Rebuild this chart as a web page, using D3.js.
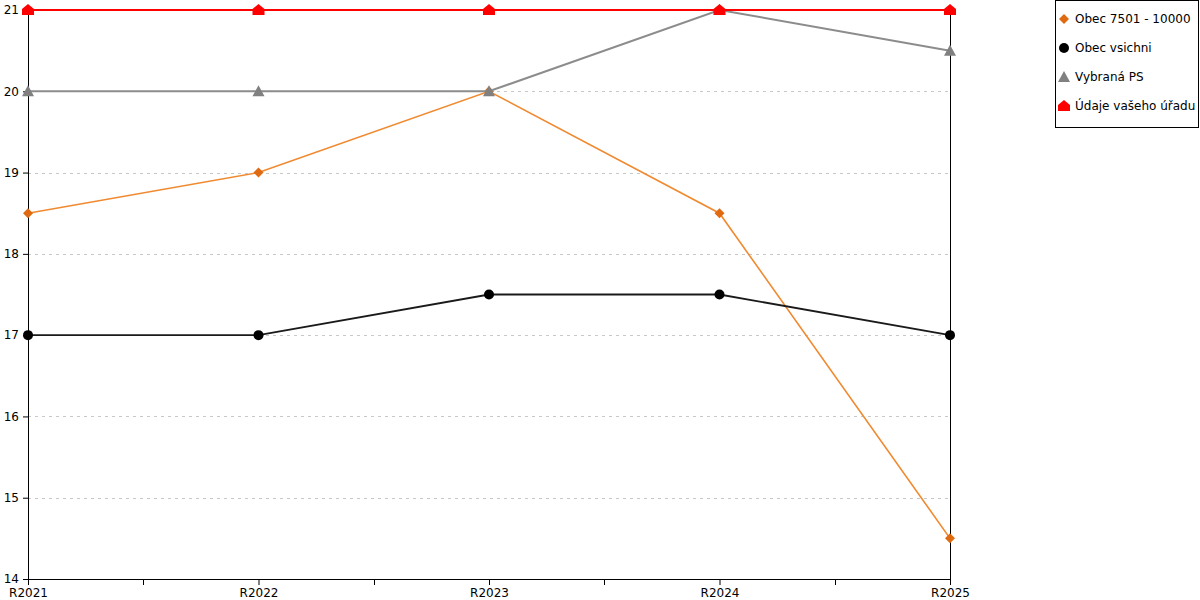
<!DOCTYPE html>
<html><head><meta charset="utf-8">
<script src="https://cdn.jsdelivr.net/npm/d3@7/dist/d3.min.js"></script>
<style>body{margin:0;background:#fff;} text{font-family:"DejaVu Sans",Verdana,sans-serif;}</style>
</head><body><svg id="c" width="1200" height="600"></svg>
<script>
const categories = ["R2021","R2022","R2023","R2024","R2025"];
const yTicks = [14,15,16,17,18,19,20,21];
const seriesNames = ["Obec 7501 - 10000","Obec vsichni","Vybraná PS","Údaje vašeho úřadu"];
const obec7501 = [18.5, 19, 20, 18.5, 14.5];
const obecVsichni = [17, 17, 17.5, 17.5, 17];
const vybranaPS = [20, 20, 20, 21, 20.5];
const udajeUradu = [21, 21, 21, 21, 21];

const styles = [
  {line:"#f08a30", fill:"#e06a10", w:1.6, shape:"diamond"},
  {line:"#1a1a1a", fill:"#000000", w:1.8, shape:"circle"},
  {line:"#8c8c8c", fill:"#808080", w:2, shape:"triangle"},
  {line:"#ff0000", fill:"#ff0000", w:2.2, shape:"house"}
];
const data = [obec7501, obecVsichni, vybranaPS, udajeUradu];

const svg = d3.select("#c");
const L=28, R=950, T=10, B=579;
const x = d3.scalePoint().domain(categories).range([L,R]);
const y = d3.scaleLinear().domain([14,21]).range([B,T]);

// grid
svg.append("g").selectAll("line").data(yTicks.filter(v=>v>14&&v<21)).join("line")
  .attr("x1",L).attr("x2",R).attr("y1",d=>Math.round(y(d))+0.5).attr("y2",d=>Math.round(y(d))+0.5)
  .attr("stroke","#c8c8c8").attr("stroke-dasharray","3,4").attr("stroke-width",1);

// y axis
const ya = svg.append("g").attr("transform",`translate(${L},0)`)
  .call(d3.axisLeft(y).tickValues(yTicks).tickFormat(d3.format("d")).tickSize(5).tickSizeOuter(0));
ya.select(".domain").attr("stroke","#000");
ya.selectAll("text").attr("font-size",12).attr("fill","#000").attr("x",-9);
// right line
svg.append("line").attr("x1",R+0.5).attr("x2",R+0.5).attr("y1",T).attr("y2",B).attr("stroke","#000");

// x axis
const xa = svg.append("g").attr("transform",`translate(0,${B})`)
  .call(d3.axisBottom(x).tickSize(6).tickSizeOuter(0));
xa.select(".domain").attr("stroke","#000");
xa.selectAll("text").attr("font-size",12).attr("fill","#000").attr("y",9).attr("dy","0.75em");
// minor ticks
const mids = d3.pairs(categories).map(([a,b])=>(x(a)+x(b))/2);
svg.append("g").selectAll("line").data(mids).join("line")
  .attr("x1",d=>Math.round(d)+0.5).attr("x2",d=>Math.round(d)+0.5).attr("y1",B).attr("y2",B+6).attr("stroke","#000");

function marker(sel, shape, fill, cx, cy){
  if(shape==="circle") sel.append("circle").attr("cx",cx).attr("cy",cy).attr("r",5).attr("fill",fill);
  else if(shape==="diamond") sel.append("path").attr("d",`M${cx},${cy-5}L${cx+5},${cy}L${cx},${cy+5}L${cx-5},${cy}Z`).attr("fill",fill);
  else if(shape==="triangle") sel.append("path").attr("d",`M${cx},${cy-6}L${cx+6},${cy+5}L${cx-6},${cy+5}Z`).attr("fill",fill);
  else if(shape==="house") sel.append("path").attr("d",`M${cx},${cy-6}L${cx+6},${cy-1}L${cx+6},${cy+5}L${cx-6},${cy+5}L${cx-6},${cy-1}Z`).attr("fill",fill);
}

const line = d3.line().x((d,i)=>x(categories[i])).y(d=>y(d));
data.forEach((vals,si)=>{
  const st = styles[si];
  const g = svg.append("g");
  g.append("path").datum(vals).attr("d",line).attr("fill","none").attr("stroke",st.line).attr("stroke-width",st.w);
  vals.forEach((v,i)=>marker(g, st.shape, st.fill, x(categories[i]), y(v)));
});

// legend
const lg = svg.append("g");
lg.append("rect").attr("x",1055.5).attr("y",0.5).attr("width",143).attr("height",127).attr("fill","#fff").attr("stroke","#000");
seriesNames.forEach((n,i)=>{
  const cy = 19 + i*29;
  marker(lg, styles[i].shape, styles[i].fill, 1064, cy);
  lg.append("text").attr("x",1075).attr("y",cy).attr("dy","0.35em").attr("font-size",12).attr("fill","#000").text(n);
});
</script></body></html>
